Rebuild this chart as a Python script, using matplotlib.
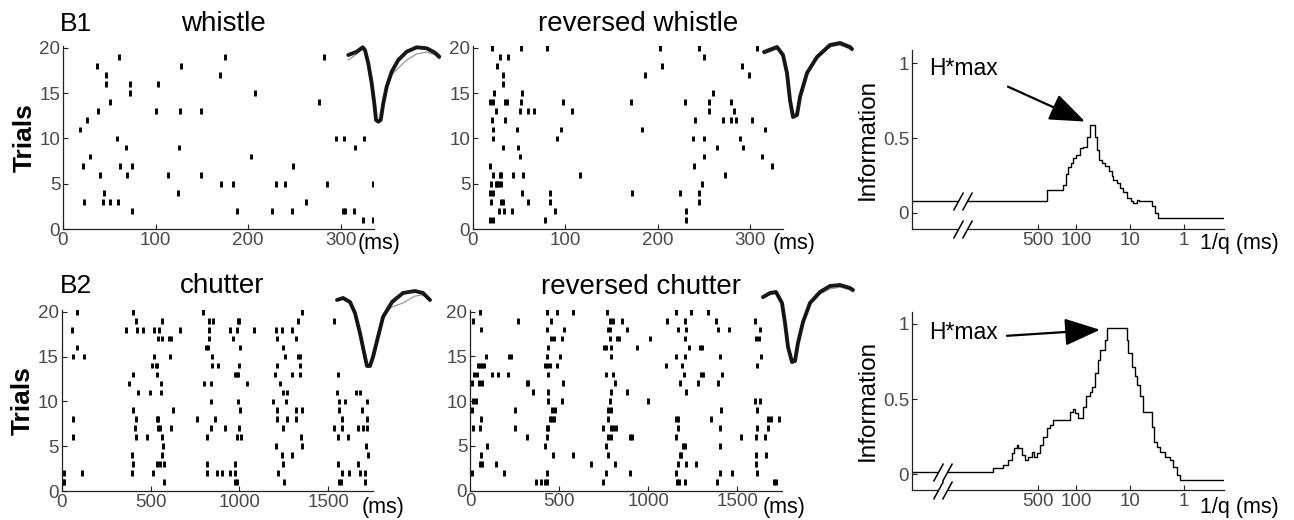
import matplotlib
matplotlib.use("Agg")
import matplotlib.pyplot as plt
from matplotlib.ticker import NullLocator

plt.rcParams["font.family"] = ["Liberation Sans", "DejaVu Sans"]

W, H = 1294, 520

# ---------------- data ----------------
# spike times (ms), one list per trial (trial 1 first)
whistle_spikes = [
    [324, 335], [75, 188, 226, 247, 302, 305, 314], [23, 43, 51, 59, 262], [44, 124],
    [171, 184, 230, 240, 285, 335], [40, 69, 113, 149], [22, 62, 75, 248], [29, 203],
    [68, 125, 316], [58, 295, 304, 325], [18], [26], [38, 101, 126, 149], [51, 277],
    [72, 207], [46, 72, 103], [46, 170], [37, 128], [61, 175, 282], [],
]
rev_whistle_spikes = [
    [18, 22, 78, 231], [28, 34, 42, 89, 231], [20, 30, 33, 60, 83, 245],
    [18, 22, 53, 83, 172, 224, 245], [19, 25, 26, 28, 30, 248], [22, 29, 30, 43, 54, 116, 273],
    [18, 239, 324], [51, 250, 313], [32, 49, 264, 293], [22, 91, 238, 250, 289],
    [22, 48, 95, 183, 317], [21, 35, 241, 271, 280, 285, 302], [25, 51, 60, 66, 107, 256, 283],
    [18, 22, 35, 37, 52, 98, 171, 230, 256, 280], [23, 53, 260], [33], [32, 186, 299],
    [26, 205, 292], [29, 38, 250], [21, 52, 80, 203, 245, 308],
]
chutter_spikes = [
    [6, 15, 576, 976, 989, 1251, 1563, 1572, 1704],
    [15, 113, 398, 512, 820, 872, 901, 947, 976, 1219, 1580, 1617, 1679, 1704],
    [403, 535, 553, 576, 820, 976, 1248, 1557, 1670],
    [398, 563, 1238, 1294, 1726],
    [569, 1206, 1351, 1713],
    [62, 418, 482, 563, 820, 985, 1008, 1347, 1557, 1613],
    [413, 544, 553, 613, 839, 919, 1000, 1244, 1535, 1576, 1670, 1694, 1717],
    [62, 418, 538, 544, 760, 863, 1210, 1266, 1319, 1576, 1717],
    [403, 629, 1004, 1210, 1319, 1351, 1561, 1692],
    [839, 994, 1191, 1263, 1563, 1595, 1717],
    [431, 497, 559, 1244, 1266, 1548, 1657, 1679],
    [381, 559, 801, 839, 1045, 1229],
    [403, 538, 976, 985, 994, 1201, 1294, 1341, 1557],
    [507, 531, 538, 844, 882, 1000, 1210, 1341],
    [62, 126, 520, 610, 844, 1257, 1328, 1341],
    [84, 812, 822, 1004, 1244],
    [544, 563, 604, 613, 829, 966, 1210, 1319],
    [60, 362, 426, 460, 522, 550, 666, 829, 947, 985, 1083, 1206, 1238, 1294],
    [418, 563, 831, 854, 990, 1000, 1332, 1535],
    [84, 403, 797, 1354],
]
rev_chutter_spikes = [
    [368, 398, 421, 434, 748, 1163, 1174, 1206, 1387, 1707, 1720],
    [9, 191, 434, 763, 897, 1159, 1402, 1473, 1613],
    [56, 65, 144, 682, 813, 1168, 1211, 1271, 1604],
    [62, 464, 576, 776, 1178, 1183, 1604, 1664],
    [93, 421, 766, 1196, 1206, 1402],
    [318, 430, 776, 794, 897, 907, 1159, 1523, 1604, 1654],
    [15, 56, 252, 434, 439, 744, 794, 804, 822, 1168, 1402, 1613, 1673],
    [62, 449, 458, 471, 776, 1159, 1168, 1351, 1673, 1692, 1733],
    [9, 252, 458, 477, 776, 794, 1411, 1613],
    [15, 34, 439, 514, 785, 1000, 1598, 1626],
    [355, 439, 794, 879, 1215],
    [9, 52, 69, 318, 327, 523, 813, 1181, 1280, 1393],
    [24, 37, 121, 155, 215, 439, 766, 804, 1200, 1299, 1308, 1417],
    [47, 56, 65, 79, 421, 434, 449, 486, 1099, 1193, 1613],
    [90, 221, 232, 434, 505, 789, 1159, 1206, 1402, 1636],
    [439, 751, 766, 794, 938, 1230, 1290, 1305],
    [452, 471, 514, 785, 828, 837, 1009, 1206, 1607, 1622],
    [62, 434, 527, 776, 785, 879, 1168, 1215, 1393, 1454, 1626],
    [15, 271, 454, 785, 804, 854, 1108, 1206, 1379, 1598],
    [56, 434, 486, 576, 770, 1159, 1243, 1336],
]

# spike waveforms (ms, normalised amplitude)
wf1_t = [0.005, 0.145, 0.245, 0.283, 0.338, 0.395, 0.438, 0.467, 0.505, 0.545, 0.588, 0.645, 0.728,
         0.838, 0.978, 1.145, 1.312, 1.45, 1.522]
wf1_v = [0.06, 0.126, 0.214, 0.16, -0.106, -0.506, -0.906, -1.24, -1.274, -1.24, -0.906, -0.574, -0.274,
         -0.04, 0.126, 0.214, 0.194, 0.106, 0.026]
wf1_v_gray = [-0.04, 0.08, 0.18, 0.14, -0.12, -0.5, -0.9, -1.22, -1.26, -1.22, -0.9, -0.6, -0.34,
              -0.2, -0.04, 0.08, 0.12, 0.06, -0.02]
wf2_t = [0, 0.217, 0.317, 0.383, 0.433, 0.483, 0.55, 0.6, 0.717, 0.883, 1.1, 1.267, 1.433, 1.467]
wf2_v = [0, 0.1, -0.06, -0.42, -0.96, -1.3, -1.26, -0.9, -0.42, -0.1, 0.14, 0.18, 0.1, 0.06]
wf2_v_gray = [-0.04, 0.06, -0.08, -0.44, -0.94, -1.26, -1.22, -0.86, -0.4, -0.12, 0.1, 0.14, 0.06, 0.02]
wf3_t = [0, 0.1, 0.217, 0.3, 0.383, 0.467, 0.5, 0.55, 0.6, 0.683, 0.767, 0.917, 1.1, 1.3, 1.433, 1.55]
wf3_v = [0, 0.04, -0.04, -0.26, -0.66, -1.14, -1.32, -1.32, -1.14, -0.74, -0.34, -0.04, 0.14, 0.18, 0.14, 0]
wf3_v_gray = [0, 0.02, -0.06, -0.28, -0.7, -1.16, -1.3, -1.3, -1.1, -0.7, -0.3, -0.14, -0.06, 0.08, 0.1, 0]
wf4_t = [0, 0.117, 0.217, 0.317, 0.367, 0.417, 0.483, 0.533, 0.583, 0.667, 0.783, 0.95, 1.117, 1.283, 1.45, 1.5]
wf4_v = [0, 0.08, 0.1, -0.12, -0.52, -1.0, -1.3, -1.28, -0.92, -0.5, -0.12, 0.1, 0.22, 0.24, 0.18, 0.14]
wf4_v_gray = [-0.03, 0.05, 0.07, -0.14, -0.52, -0.98, -1.26, -1.24, -0.9, -0.48, -0.14, 0.06, 0.16, 0.2, 0.14, 0.1]

# information vs 1/q (ms); first point stands for the q -> 0 region left of the break
qinv_whistle = [105700, 345, 170, 150, 138, 125, 112, 98, 84, 73, 63, 56, 44, 41, 37, 33, 29, 25, 22,
                20.4, 17.5, 15.4, 13.5, 11.5, 9.6, 8.7, 7.6, 6.8, 4.0, 3.5, 3.0, 0.185]
info_whistle = [0.082, 0.156, 0.19, 0.26, 0.31, 0.333, 0.367, 0.389, 0.433, 0.444, 0.511, 0.589, 0.511,
                0.422, 0.356, 0.333, 0.311, 0.28, 0.244, 0.222, 0.2, 0.167, 0.14, 0.1, 0.078, 0.067,
                0.089, 0.082, 0.05, 0.0, -0.033, -0.033]
qinv_chutter = [105700, 3340, 2185, 1767, 1530, 1387, 1237, 1153, 1000, 869, 755, 655, 585, 528, 459, 410,
                346, 300, 261, 128.5, 114.6, 104, 90.3, 73, 65.1, 55, 51.2, 44.4, 38.6, 35.9, 29, 27,
                11.6, 10.8, 9.34, 8.12, 7.55, 6.56, 5.7, 3.99, 3.62, 3.24, 2.81, 2.27, 1.84, 1.6, 1.38,
                1.2, 0.185]
info_chutter = [0.018, 0.04, 0.062, 0.095, 0.14, 0.173, 0.195, 0.173, 0.129, 0.095, 0.118, 0.151, 0.118,
                0.14, 0.195, 0.25, 0.306, 0.328, 0.361, 0.417, 0.432, 0.406, 0.372, 0.45, 0.517, 0.55,
                0.583, 0.672, 0.76, 0.827, 0.894, 0.971, 0.894, 0.805, 0.716, 0.65, 0.594, 0.517, 0.417,
                0.317, 0.217, 0.184, 0.151, 0.118, 0.095, 0.051, -0.004, -0.038, -0.038]

info_ticks = [500, 100, 10, 1]
info_ticklabels = ["500", "100", "10", "1"]

TICK_COLOR = "#4a4a4a"
TICK_FS = 13.5


def px_rect(left, top, right, bottom):
    return [left / W, 1 - bottom / H, (right - left) / W, (bottom - top) / H]


def fig_text(x, y, s, **kw):
    fig.text(x / W, 1 - y / H, s, **kw)


def style_axes(ax):
    for side in ("top", "right"):
        ax.spines[side].set_visible(False)
    for side in ("left", "bottom"):
        ax.spines[side].set_linewidth(0.9)
        ax.spines[side].set_color("#222222")
    ax.tick_params(direction="in", length=3.5, width=0.8, colors="#222222",
                   labelcolor=TICK_COLOR, labelsize=TICK_FS, pad=2)


def raster(box, trials, xmax, xticks):
    ax = fig.add_axes(px_rect(*box))
    for k, times in enumerate(trials, start=1):
        if times:
            ax.vlines(times, k - 0.32, k + 0.32, color="black", lw=2.1)
    ax.set_xlim(0, xmax)
    ax.set_ylim(0, 20.25)
    ax.set_xticks(xticks)
    ax.set_yticks([0, 5, 10, 15, 20])
    style_axes(ax)
    return ax


def waveform(x0, y0, t, v, v_gray):
    # inset placed so that t=0, v=0 falls at pixel (x0, y0); 60 px per ms, 50 px per unit
    ax = fig.add_axes(px_rect(x0 - 6, y0 - 20, x0 + 102, y0 + 75))
    ax.plot(t, v_gray, color="0.6", lw=0.9, solid_joinstyle="round")
    ax.plot(t, v, color="black", lw=2.8, alpha=0.9, solid_joinstyle="round", solid_capstyle="round")
    ax.set_xlim(-0.1, 1.7)
    ax.set_ylim(-1.5, 0.4)
    ax.axis("off")
    ax.patch.set_visible(False)


SLASH = [(-0.55, -1), (0.55, 1)]


def info_panel(box, qinv, info, ylo, yhi, brk, y_flat, tail, tip, label_xy):
    ax = fig.add_axes(px_rect(*box))
    ax.plot(qinv, info, drawstyle="steps-post", color="black", lw=1.0)
    ax.set_xscale("log")
    ax.set_xlim(105700, 0.185)
    ax.set_ylim(ylo, yhi)
    ax.set_xticks(info_ticks)
    ax.set_xticklabels(info_ticklabels)
    ax.xaxis.set_minor_locator(NullLocator())
    ax.set_yticks([0, 0.5, 1])
    ax.set_yticklabels(["0", "0.5", "1"])
    style_axes(ax)
    ax.set_ylabel("Information", fontsize=17.5, labelpad=3)
    # axis break marks on the curve and on the x axis
    for y, clip in ((y_flat, True), (ylo, False)):
        ax.plot(brk, [y, y], color="white", lw=3.5, clip_on=clip, zorder=5, solid_capstyle="butt")
        ax.plot(brk, [y, y], ls="none", marker=SLASH, ms=13, mec="black", mew=1.1,
                clip_on=False, zorder=6)
    ax.text(label_xy[0], label_xy[1], "H*max", fontsize=16.5, va="baseline", ha="left")
    ax.annotate("", xy=tip, xytext=tail,
                arrowprops=dict(arrowstyle="-|>,head_length=2.2,head_width=0.85", mutation_scale=10,
                                lw=1.6, color="black", shrinkA=0, shrinkB=0))
    return ax


fig = plt.figure(figsize=(W / 100, H / 100), dpi=100)

ax = raster((63, 45.7, 374, 229), whistle_spikes, 336, [0, 100, 200, 300])
ax.set_ylabel("Trials", fontsize=19, fontweight="bold", labelpad=2)
raster((473, 45.7, 783, 229), rev_whistle_spikes, 336, [0, 100, 200, 300])
ax = raster((61.7, 309.5, 372.7, 491), chutter_spikes, 1750, [0, 500, 1000, 1500])
ax.set_ylabel("Trials", fontsize=19, fontweight="bold", labelpad=2)
raster((470, 309.5, 781.7, 490.7), rev_chutter_spikes, 1750, [0, 500, 1000, 1500])

waveform(348, 58, wf1_t, wf1_v, wf1_v_gray)
waveform(764, 52, wf2_t, wf2_v, wf2_v_gray)
waveform(337, 300, wf3_t, wf3_v, wf3_v_gray)
waveform(763, 297, wf4_t, wf4_v, wf4_v_gray)

info_panel((912, 50, 1224, 229), qinv_whistle, info_whistle, -0.107, 1.089,
           [14960, 10230], 0.082, (1790, 0.844), (68, 0.611), (51300, 0.92))
info_panel((912, 311.7, 1224, 490), qinv_chutter, info_chutter, -0.104, 1.08,
           [35700, 23400], 0.018, (1870, 0.92), (36, 0.96), (51300, 0.90))

# panel titles and unit labels
fig_text(60, 31, "B1", fontsize=19, va="baseline")
fig_text(223, 31, "whistle", fontsize=20, ha="center", va="baseline")
fig_text(638, 31, "reversed whistle", fontsize=20, ha="center", va="baseline")
fig_text(60, 293, "B2", fontsize=19, va="baseline")
fig_text(222, 293, "chutter", fontsize=20, ha="center", va="baseline")
fig_text(641, 294, "reversed chutter", fontsize=20, ha="center", va="baseline")

for x, y in ((358, 243), (773, 243), (362, 508), (763, 507)):
    fig_text(x, y, "(ms)", fontsize=15.5, va="center")
for y in (243, 507):
    fig_text(1200, y, "1/q (ms)", fontsize=15.5, va="center")

fig.savefig("out.png", dpi=100)
